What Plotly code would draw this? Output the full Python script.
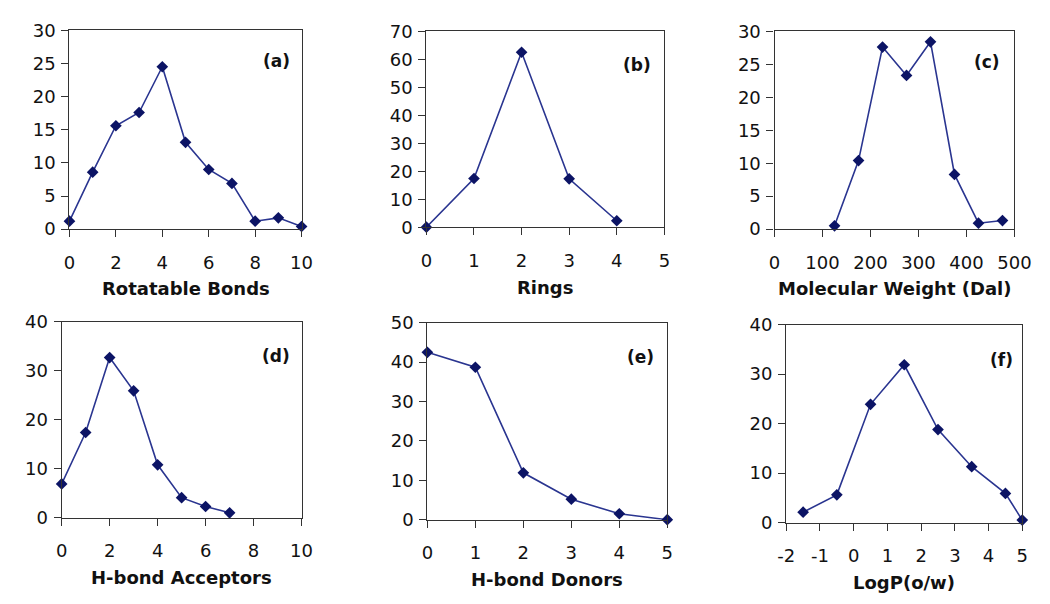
import plotly.graph_objects as go

W, H = 1050, 604

# ---- data ----
rot_x = [0, 1, 2, 3, 4, 5, 6, 7, 8, 9, 10]
rot_y = [1.2, 8.6, 15.6, 17.6, 24.5, 13.1, 9.0, 6.9, 1.2, 1.7, 0.4]

ring_x = [0, 1, 2, 3, 4]
ring_y = [0, 17.4, 62.5, 17.3, 2.3]

mw_x = [125, 175, 225, 275, 325, 375, 425, 475]
mw_y = [0.5, 10.4, 27.6, 23.3, 28.4, 8.3, 0.9, 1.3]

acc_x = [0, 1, 2, 3, 4, 5, 6, 7]
acc_y = [6.9, 17.4, 32.7, 25.9, 10.8, 4.1, 2.3, 1.0]

don_x = [0, 1, 2, 3, 4, 5]
don_y = [42.5, 38.7, 11.9, 5.2, 1.5, 0]

logp_x = [-1.5, -0.5, 0.5, 1.5, 2.5, 3.5, 4.5, 5]
logp_y = [2.1, 5.6, 23.9, 31.9, 18.8, 11.3, 5.9, 0.5]

logp_tickvals = [-2, -1, 0, 1, 2, 3, 4, 5]
logp_ticktext = ["-2", "-1", "0", "1", "2", "3", "4", "5"]

titles = ["Rotatable Bonds", "Rings", "Molecular Weight (Dal)",
          "H-bond Acceptors", "H-bond Donors", "LogP(o/w)"]
labels = ["(a)", "(b)", "(c)", "(d)", "(e)", "(f)"]

xranges = [[0, 10], [0, 5], [0, 500], [0, 10], [0, 5], [-2, 5]]
xdticks = [2, 1, 100, 2, 1, 1]
yranges = [[0, 30], [0, 70], [0, 30], [0, 40], [0, 50], [0, 40]]
ydticks = [5, 10, 5, 10, 10, 10]

series = [(rot_x, rot_y), (ring_x, ring_y), (mw_x, mw_y),
          (acc_x, acc_y), (don_x, don_y), (logp_x, logp_y)]

# pixel boxes (left, right, top, bottom)
boxes = [(62, 300, 20, 226), (428, 672, 21, 224), (785, 1031, 21, 226),
         (54, 300, 322, 525), (429, 675, 323, 527), (797, 1039, 325, 530)]
label_pos = [(290, 52), (660, 56), (1018, 53), (290, 357), (663, 358), (1032, 362)]
title_off = [62, 62, 62, 62, 62, 62]

FONT = "DejaVu Sans, Arial, sans-serif"
LINE = "#2a3590"
MARK = "#0c1465"
AX = "#333333"

fig = go.Figure()
annotations = []
for i, ((xs, ys), box) in enumerate(zip(series, boxes)):
    n = "" if i == 0 else str(i + 1)
    fig.add_trace(go.Scatter(
        x=xs, y=ys, mode="lines+markers",
        line=dict(color=LINE, width=1.6),
        marker=dict(symbol="diamond", size=9, color=MARK),
        xaxis="x" + n, yaxis="y" + n, showlegend=False, cliponaxis=False,
        hoverinfo="skip"))
    l, r, t, b = box
    common = dict(showline=True, linecolor=AX, linewidth=1.3, mirror=True,
                  ticks="outside", ticklen=7, tickcolor=AX, tickwidth=1.3,
                  showgrid=False, zeroline=False,
                  tickfont=dict(family=FONT, size=18, color="#111111"))
    xa = dict(domain=[l / W, r / W], range=xranges[i],
              dtick=xdticks[i], tick0=0, anchor="y" + n,
              ticklabelstandoff=10, **common)
    if i == 5:
        xa.update(tickmode="array", tickvals=logp_tickvals, ticktext=logp_ticktext)
    fig.update_layout({
        "xaxis" + n: xa,
        "yaxis" + n: dict(domain=[1 - b / H, 1 - t / H], range=yranges[i],
                          dtick=ydticks[i], tick0=0, anchor="x" + n,
                          ticklabelstandoff=2, **common),
    })
    annotations.append(dict(
        x=(l + r) / 2 / W, y=1 - (b + title_off[i]) / H, xref="paper", yref="paper",
        text="<b>" + titles[i] + "</b>", showarrow=False,
        xanchor="center", yanchor="middle",
        font=dict(family=FONT, size=18, color="#111111")))
    lx, ly = label_pos[i]
    annotations.append(dict(
        x=lx / W, y=1 - ly / H, xref="paper", yref="paper",
        text="<b>" + labels[i] + "</b>", showarrow=False,
        xanchor="right", yanchor="middle",
        font=dict(family=FONT, size=17, color="#111111")))

fig.update_layout(width=W, height=H, margin=dict(l=0, r=0, t=0, b=0),
                  paper_bgcolor="white", plot_bgcolor="white",
                  annotations=annotations, hovermode=False)
fig.write_html("out.html", config={"displayModeBar": False},
               post_script="document.body.style.margin='0';document.body.style.overflow='hidden';")
